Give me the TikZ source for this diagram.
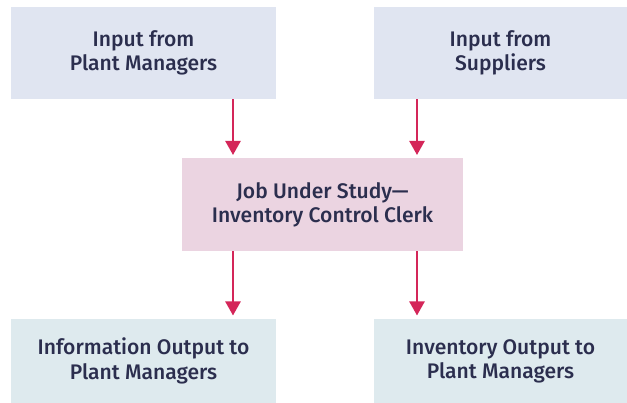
\documentclass[tikz,border=0pt]{standalone}
\usepackage{fontspec}
\setsansfont{Fira Sans}[UprightFont=* Medium]
\usetikzlibrary{arrows.meta, positioning, calc}

\definecolor{inputfill}{HTML}{E0E5F1}
\definecolor{jobfill}{HTML}{EBD4E1}
\definecolor{outputfill}{HTML}{DEEAEE}
\definecolor{flowred}{HTML}{D42659}
\definecolor{labeltext}{HTML}{2B2E4E}

\begin{document}
\begin{tikzpicture}[x=0.02cm, y=-0.02cm,
                box/.style={minimum height=1.84cm, align=center, inner sep=0pt,
                            font=\sffamily\fontsize{12}{13.8}\selectfont, text=labeltext},
                flow/.style={-{Triangle[length=8pt, width=8.5pt]}, line width=1.5pt, draw=flowred}]

                \useasboundingbox (0,0) rectangle (627,403);

                % input boxes along the top
                \node[box, fill=inputfill, minimum width=5.3cm] (inplant) at (143.5,53) {Input from\\Plant Managers};
                \node[box, fill=inputfill, minimum width=5.06cm] (insupp) at (500.5,53) {Input from\\Suppliers};

                % the job itself
                \node[box, fill=jobfill, minimum width=5.62cm, minimum height=1.86cm] (job) at (322.5,204.5)
                    {Job Under Study---\\Inventory Control Clerk};

                % outputs along the bottom
                \node[box, fill=outputfill, minimum width=5.3cm, minimum height=1.7cm] (outinfo) at (143.5,361)
                    {Information Output to\\Plant Managers};
                \node[box, fill=outputfill, minimum width=5.06cm, minimum height=1.7cm] (outinv) at (500.5,361)
                    {Inventory Output to\\Plant Managers};

                % arrow columns
                \coordinate (colL) at (233,0);
                \coordinate (colR) at (417,0);

                \draw[flow] (inplant.south -| colL) -- ([yshift=1.5pt]job.north -| colL);
                \draw[flow] (insupp.south -| colR) -- ([yshift=1.5pt]job.north -| colR);
                \draw[flow] (job.south -| colL) -- ([yshift=1.5pt]outinfo.north -| colL);
                \draw[flow] (job.south -| colR) -- ([yshift=1.5pt]outinv.north -| colR);
\end{tikzpicture}
\end{document}
